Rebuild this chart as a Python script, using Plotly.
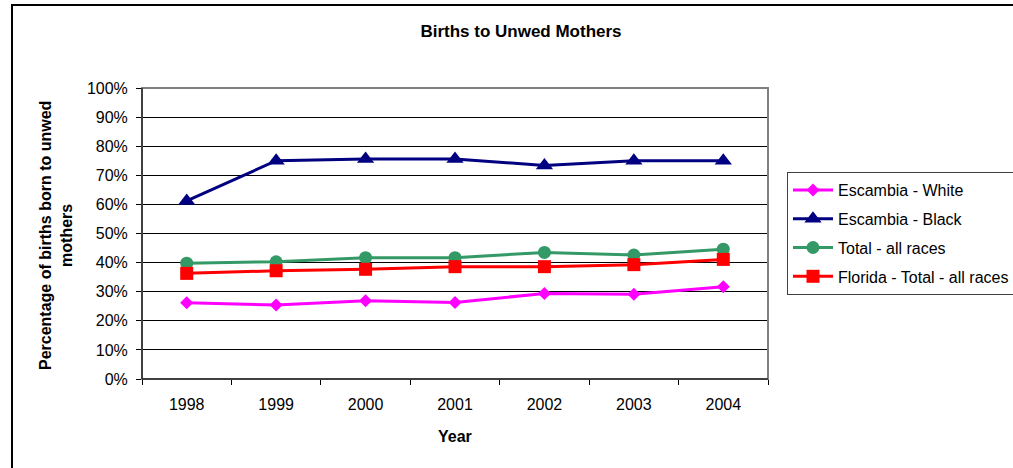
import plotly.graph_objects as go

years = ["1998", "1999", "2000", "2001", "2002", "2003", "2004"]
esc_white = [0.262, 0.254, 0.269, 0.263, 0.294, 0.291, 0.317]
esc_black = [0.612, 0.750, 0.756, 0.756, 0.734, 0.750, 0.750]
total_all = [0.398, 0.403, 0.417, 0.417, 0.435, 0.426, 0.446]
florida_total = [0.363, 0.372, 0.377, 0.386, 0.386, 0.393, 0.411]
y_ticks = [0, 0.1, 0.2, 0.3, 0.4, 0.5, 0.6, 0.7, 0.8, 0.9, 1.0]

FONT = "Liberation Sans, Arial, sans-serif"
W, H = 1013, 468
L, R, T, B = 142, 768, 88, 379

series = [
    ("Escambia - White", esc_white, "#FF00FF", "diamond", 10),
    ("Escambia - Black", esc_black, "#000080", "triangle-up", 15),
    ("Total - all races", total_all, "#339966", "circle", 13),
    ("Florida - Total - all races", florida_total, "#FF0000", "square", 13),
]

fig = go.Figure()
for i, (name, vals, col, sym, sz) in enumerate(series):
    fig.add_trace(go.Scatter(
        x=years, y=vals, name=name, mode="lines+markers",
        line=dict(color=col, width=3),
        marker=dict(symbol=sym, size=sz, color=col, line=dict(width=0)),
        legendgroup=f"g{i}",
    ))

def px_x(p):
    return (p - L) / (R - L)

def px_y(p):
    return (B - p) / (B - T)

fig.update_layout(
    width=W, height=H,
    margin=dict(l=L, r=W - R, t=T, b=H - B, pad=0, autoexpand=False),
    paper_bgcolor="white", plot_bgcolor="white",
    font=dict(family=FONT, size=16, color="black"),
    title=dict(text="<b>Births to Unwed Mothers</b>", x=521 / W, xref="container",
               xanchor="center", y=1 - 31 / H, yref="container", yanchor="middle",
               font=dict(family=FONT, size=17, color="black")),
    showlegend=True,
    legend=dict(x=px_x(787), y=px_y(172), xanchor="left", yanchor="top",
                bordercolor="#404040", borderwidth=1, bgcolor="white",
                font=dict(family=FONT, size=16, color="black"),
                tracegroupgap=5, itemwidth=40),
    xaxis=dict(type="category", range=[-0.5, len(years) - 0.5], showgrid=False,
               showline=True, linecolor="black",
               linewidth=1, ticks="outside", tickson="boundaries", ticklen=5,
               tickcolor="black", tickfont=dict(family=FONT, size=16),
               ticklabelstandoff=11, fixedrange=True),
    yaxis=dict(range=[0, 1], tickvals=y_ticks, tickformat=".0%", showgrid=True,
               gridcolor="black", gridwidth=1, showline=True, linecolor="black",
               linewidth=1, ticks="outside", ticklen=5, tickcolor="black",
               tickfont=dict(family=FONT, size=16), ticklabelstandoff=5,
               zeroline=False, fixedrange=True),
    annotations=[
        dict(text="<b>Percentage of births born to unwed<br>mothers</b>",
             xref="paper", yref="paper", x=px_x(56), y=px_y(236),
             xanchor="center", yanchor="middle", textangle=-90, showarrow=False,
             font=dict(family=FONT, size=16, color="black")),
        dict(text="<b>Year</b>", xref="paper", yref="paper", x=0.5, y=px_y(436),
             xanchor="center", yanchor="middle", showarrow=False,
             font=dict(family=FONT, size=16, color="black")),
    ],
    shapes=[
        dict(type="rect", xref="paper", yref="paper", x0=0, x1=1, y0=0, y1=1,
             line=dict(color="#808080", width=2), layer="above"),
        dict(type="line", xref="paper", yref="paper", x0=0, x1=0, y0=0, y1=1,
             line=dict(color="black", width=1), layer="above"),
        dict(type="line", xref="paper", yref="paper", x0=0, x1=1, y0=0, y1=0,
             line=dict(color="black", width=1), layer="above"),
        dict(type="rect", xref="paper", yref="paper", x0=px_x(12), x1=px_x(1030),
             y0=px_y(490), y1=px_y(5), line=dict(color="black", width=2)),
    ],
)

fig.write_html("out.html", config={"displayModeBar": False},
               post_script="document.body.style.margin='0';")
